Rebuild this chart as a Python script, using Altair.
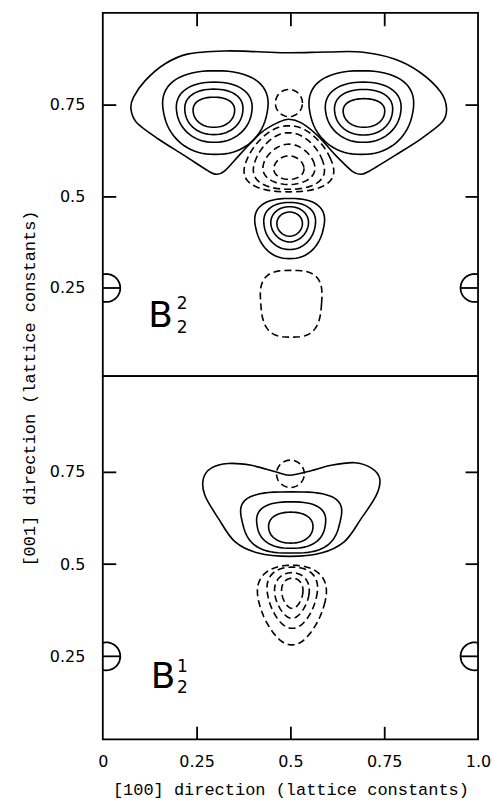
import numpy as np
import pandas as pd
import altair as alt

# ---------------- axis values ----------------
X_TICK_VALUES = [0, 0.25, 0.5, 0.75, 1.0]
Y_TICK_VALUES = [0.25, 0.5, 0.75]
EDGE_TICKS_X = [0.25, 0.5, 0.75]
LEFT_TICKS_Y = [0.5, 0.75]
RIGHT_TICKS_Y = [0.5, 0.75]
MARKER_Y = 0.25

# ---------------- outer contour outlines ----------------
TOP_OUTLINE_X = [0.496, 0.414, 0.325, 0.228, 0.166, 0.113, 0.082, 0.075, 0.090, 0.148, 0.219, 0.281, 0.303,
                 0.325, 0.370, 0.423, 0.467, 0.496, 0.529, 0.574, 0.618, 0.665, 0.689, 0.711, 0.780, 0.850,
                 0.905, 0.916, 0.900, 0.845, 0.777, 0.689, 0.600]
TOP_OUTLINE_Y = [0.891, 0.894, 0.896, 0.888, 0.861, 0.815, 0.770, 0.738, 0.701, 0.656, 0.610, 0.569, 0.560,
                 0.569, 0.619, 0.674, 0.701, 0.710, 0.700, 0.664, 0.614, 0.568, 0.560, 0.569, 0.612, 0.658,
                 0.703, 0.740, 0.785, 0.838, 0.874, 0.893, 0.893]

BOT_OUTLINE_X = [0.268, 0.290, 0.334, 0.396, 0.458, 0.498, 0.547, 0.609, 0.671, 0.715, 0.738, 0.729,
                 0.689, 0.644, 0.582, 0.498, 0.414, 0.352, 0.308, 0.272]
BOT_OUTLINE_Y = [0.732, 0.761, 0.773, 0.768, 0.751, 0.741, 0.751, 0.768, 0.775, 0.761, 0.732, 0.687,
                 0.624, 0.561, 0.530, 0.521, 0.530, 0.561, 0.624, 0.687]

# ---------------- oval contours: centre, half-widths, squareness, taper, dashed ----------------
OVAL_PANEL = ["top"] * 18 + ["bottom"] * 8
OVAL_CX = [0.296, 0.296, 0.297, 0.300, 0.696, 0.695, 0.694, 0.689,
           0.496, 0.496, 0.496, 0.496, 0.496,
           0.498, 0.498, 0.498, 0.498, 0.502,
           0.500, 0.502, 0.502, 0.501, 0.504, 0.505, 0.504, 0.505]
OVAL_CY = [0.729, 0.730, 0.729, 0.728, 0.727, 0.729, 0.729, 0.728,
           0.754, 0.578, 0.587, 0.596, 0.602,
           0.424, 0.4235, 0.419, 0.412, 0.207,
           0.745, 0.613, 0.606, 0.599, 0.389, 0.409, 0.415, 0.421]
OVAL_RX = [0.055, 0.077, 0.100, 0.138, 0.055, 0.077, 0.100, 0.137,
           0.036, 0.040, 0.068, 0.090, 0.111,
           0.034, 0.050, 0.068, 0.090, 0.081,
           0.037, 0.130, 0.091, 0.059, 0.086, 0.064, 0.045, 0.028]
OVAL_RY = [0.041, 0.062, 0.082, 0.114, 0.039, 0.062, 0.082, 0.114,
           0.037, 0.032, 0.055, 0.077, 0.090,
           0.033, 0.048, 0.064, 0.082, 0.091,
           0.037, 0.083, 0.063, 0.042, 0.108, 0.083, 0.062, 0.041]
OVAL_SQUARE = [2.2, 2.2, 2.2, 2.3, 2.2, 2.2, 2.2, 2.3,
               2.0, 2.0, 2.0, 2.2, 2.3,
               2.0, 2.0, 2.2, 2.4, 3.0,
               2.0, 3.0, 2.5, 2.2, 2.2, 2.2, 2.0, 2.0]
OVAL_TAPER = [0.10, 0.10, 0.12, 0.15, 0.10, 0.10, 0.12, 0.15,
              0.0, -0.10, -0.20, -0.30, -0.35,
              0.05, 0.10, 0.15, 0.20, 0.08,
              0.0, 0.15, 0.10, 0.05, 0.35, 0.30, 0.25, 0.20]
OVAL_DASHED = [False] * 8 + [True] * 5 + [False] * 4 + [True] + [True] + [False] * 3 + [True] * 4

# ---------------- panel labels ----------------
LABEL_PANEL = ["top", "bottom"]
LABEL_SUP = ["2", "1"]
LABEL_SUB = ["2", "2"]

PANEL_W = 376
PANEL_H = 364
TICK_PX = 13
Y_DOMAIN = {"top": [0.01, 1.0], "bottom": [0.025, 1.01]}
LABEL_POS = {"top": dict(bx=0.121, by=0.144, sx=0.197, sy=0.193, ux=0.197, uy=0.128),
             "bottom": dict(bx=0.128, by=0.163, sx=0.198, sy=0.208, ux=0.198, uy=0.150)}

# ---------------- build tables ----------------
rows = []
for pname, xs, ys in [("top", TOP_OUTLINE_X, TOP_OUTLINE_Y), ("bottom", BOT_OUTLINE_X, BOT_OUTLINE_Y)]:
    for i, (x, y) in enumerate(zip(xs, ys)):
        rows.append(dict(panel=pname, cid=f"{pname}-outline", i=i, x=x, y=y))
outline_df = pd.DataFrame(rows)

t = np.linspace(0, 2 * np.pi, 73)[:-1]
rows = []
for k in range(len(OVAL_CX)):
    c, s = np.cos(t), np.sin(t)
    e = 2.0 / OVAL_SQUARE[k]
    px = np.sign(c) * np.abs(c) ** e
    py = np.sign(s) * np.abs(s) ** e
    xx = OVAL_CX[k] + OVAL_RX[k] * px * (1 + OVAL_TAPER[k] * py)
    yy = OVAL_CY[k] + OVAL_RY[k] * py
    for i in range(len(t)):
        rows.append(dict(panel=OVAL_PANEL[k], cid=f"oval{k}", i=i, x=float(xx[i]), y=float(yy[i]),
                         dashed=OVAL_DASHED[k]))
oval_df = pd.DataFrame(rows)

# edge markers (circle of radius R px whose centre sits OFF px inside the frame)
R_PX, OFF_PX = 14.0, 3.5
tmax = np.arccos(-OFF_PX / R_PX)
ta = np.linspace(-tmax, tmax, 40)
mrows = []


def seg(pname, cid, pts):
    for i, (x, y) in enumerate(pts):
        mrows.append(dict(panel=pname, cid=cid, i=i, x=float(x), y=float(y)))


for pname in ["top", "bottom"]:
    d0, d1 = Y_DOMAIN[pname]
    ry = R_PX / PANEL_H * (d1 - d0)
    ext = (OFF_PX + R_PX) / PANEL_W
    for side in ["left", "right"]:
        pts = []
        for a in ta:
            dx = (OFF_PX + R_PX * np.cos(a)) / PANEL_W
            pts.append((dx if side == "left" else 1 - dx, MARKER_Y + ry * np.sin(a)))
        seg(pname, f"{pname}-{side}-arc", pts)
        if side == "left":
            seg(pname, f"{pname}-{side}-bar", [(0.0, MARKER_Y), (ext, MARKER_Y)])
        else:
            seg(pname, f"{pname}-{side}-bar", [(1 - ext, MARKER_Y), (1.0, MARKER_Y)])
marker_df = pd.DataFrame(mrows)

FONT = "DejaVu Sans"
TFONT = "Liberation Mono"
STROKE = 1.6


def tick_axis(orient, values):
    # tick-only axis moved onto the opposite frame edge so its ticks point into the panel
    off = -PANEL_H if orient in ("top", "bottom") else -PANEL_W
    return alt.Axis(orient=orient, offset=off, values=values, labels=False, domain=False, grid=False,
                    ticks=True, tickSize=TICK_PX, tickWidth=1.8, tickColor="black", title=None)


def panel(pname, bottom):
    dom = Y_DOMAIN[pname]
    xscale = alt.Scale(domain=[0, 1], nice=False, zero=False)
    yscale = alt.Scale(domain=dom, nice=False, zero=False)
    if bottom:
        xaxis = alt.Axis(values=X_TICK_VALUES, labelExpr="datum.value == 1 ? '1.0' : toString(datum.value)",
                         ticks=False, domain=False, grid=False, labelPadding=14, labelFlush=False,
                         title="[100] direction (lattice constants)", titlePadding=12,
                         labelFontSize=16, titleFontSize=17, labelFont=FONT, titleFont=TFONT,
                         titleFontWeight="normal", labelColor="black", titleColor="black")
    else:
        xaxis = None
    yaxis_kw = dict(values=Y_TICK_VALUES, labelExpr="toString(datum.value)", ticks=False, domain=False,
                    grid=False, labelPadding=18, labelFontSize=16, labelFont=FONT, labelColor="black")
    if bottom:
        yaxis = alt.Axis(title=None, **yaxis_kw)
    else:
        yaxis = alt.Axis(title="[001] direction (lattice constants)", titleFontSize=17, titleFont=TFONT,
                         titleFontWeight="normal", titleColor="black", titleX=-73, titleY=PANEL_H + 12,
                         titleAngle=270, titleAlign="center", titleBaseline="middle", **yaxis_kw)

    def X(f, ax=None):
        return alt.X(f"{f}:Q", scale=xscale, axis=ax)

    def Y(f, ax=None):
        return alt.Y(f"{f}:Q", scale=yscale, axis=ax)

    # layer carrying the labelled axes
    base_outline = alt.Chart(outline_df).transform_filter(alt.datum.panel == pname)
    outline = base_outline.mark_line(interpolate="cardinal-closed", color="black", strokeWidth=STROKE).encode(
        x=X("x", xaxis), y=Y("y", yaxis), detail="cid:N", order="i:Q")

    # inner ticks on the horizontal frame edge (top edge in the upper panel, bottom edge in the lower one)
    edge_axis = tick_axis("top" if bottom else "bottom", EDGE_TICKS_X)
    ov = alt.Chart(oval_df).transform_filter(alt.datum.panel == pname)
    solid = ov.transform_filter("!datum.dashed").mark_line(
        interpolate="linear-closed", color="black", strokeWidth=STROKE).encode(
        x=X("x", edge_axis), y=Y("y"), detail="cid:N", order="i:Q")
    # inner ticks on the left frame edge
    dashed = ov.transform_filter("datum.dashed").mark_line(
        interpolate="linear-closed", color="black", strokeWidth=STROKE, strokeDash=[7, 4]).encode(
        x=X("x"), y=Y("y", tick_axis("right", LEFT_TICKS_Y)), detail="cid:N", order="i:Q")
    # inner ticks on the right frame edge
    mk = alt.Chart(marker_df).transform_filter(alt.datum.panel == pname).mark_line(
        color="black", strokeWidth=1.8).encode(
        x=X("x"), y=Y("y", tick_axis("left", RIGHT_TICKS_Y)), detail="cid:N", order="i:Q")

    li = LABEL_PANEL.index(pname)
    p = LABEL_POS[pname]
    lab = pd.DataFrame({"bx": [p["bx"]], "by": [p["by"]], "sx": [p["sx"]], "sy": [p["sy"]],
                        "ux": [p["ux"]], "uy": [p["uy"]], "sup": [LABEL_SUP[li]], "sub": [LABEL_SUB[li]],
                        "B": ["B"]})
    lc = alt.Chart(lab)
    tb = lc.mark_text(font=FONT, fontSize=36, align="left", baseline="alphabetic", color="black").encode(
        x=X("bx"), y=Y("by"), text="B:N")
    ts = lc.mark_text(font=FONT, fontSize=17, align="left", baseline="alphabetic", color="black").encode(
        x=X("sx"), y=Y("sy"), text="sup:N")
    tu = lc.mark_text(font=FONT, fontSize=17, align="left", baseline="alphabetic", color="black").encode(
        x=X("ux"), y=Y("uy"), text="sub:N")

    return alt.layer(outline, solid, dashed, mk, tb, ts, tu).resolve_axis(
        x="independent", y="independent").properties(width=PANEL_W, height=PANEL_H)


chart = alt.vconcat(panel("top", False), panel("bottom", True), spacing=0, bounds="flush").properties(
    padding={"left": 20, "top": 10, "right": 0, "bottom": 0}
).configure_view(stroke="black", strokeWidth=1.8)

chart.save("out.html", embed_options={"renderer": "svg", "actions": False})
